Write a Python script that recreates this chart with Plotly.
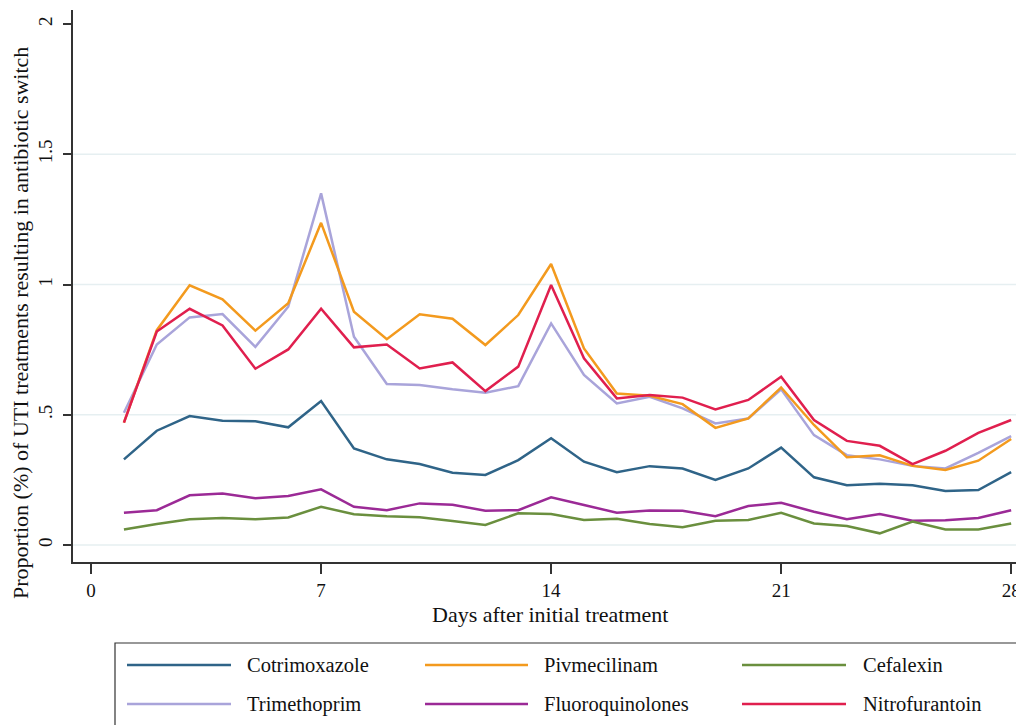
import plotly.graph_objects as go

days = list(range(1, 29))

cotrimoxazole = [0.329, 0.439, 0.495, 0.477, 0.475, 0.452, 0.553, 0.371, 0.329, 0.311,
                 0.278, 0.269, 0.326, 0.410, 0.320, 0.280, 0.303, 0.294, 0.250, 0.294,
                 0.374, 0.260, 0.230, 0.235, 0.230, 0.208, 0.211, 0.280]
pivmecilinam = [0.47, 0.825, 0.997, 0.943, 0.823, 0.928, 1.237, 0.896, 0.790, 0.886,
                0.869, 0.768, 0.883, 1.079, 0.755, 0.582, 0.573, 0.541, 0.450, 0.486,
                0.605, 0.461, 0.337, 0.345, 0.304, 0.288, 0.324, 0.407]
cefalexin = [0.060, 0.081, 0.099, 0.104, 0.099, 0.106, 0.147, 0.118, 0.111, 0.107,
             0.092, 0.077, 0.122, 0.119, 0.096, 0.101, 0.081, 0.068, 0.093, 0.096,
             0.124, 0.083, 0.073, 0.045, 0.090, 0.060, 0.060, 0.083]
trimethoprim = [0.508, 0.770, 0.874, 0.887, 0.761, 0.915, 1.350, 0.800, 0.618, 0.614,
                0.598, 0.585, 0.610, 0.851, 0.653, 0.544, 0.569, 0.525, 0.467, 0.486,
                0.598, 0.422, 0.345, 0.329, 0.304, 0.294, 0.354, 0.418]
fluoroquinolones = [0.124, 0.134, 0.191, 0.198, 0.180, 0.188, 0.214, 0.147, 0.134, 0.160,
                    0.155, 0.132, 0.134, 0.183, 0.154, 0.124, 0.133, 0.132, 0.111, 0.150,
                    0.162, 0.128, 0.099, 0.119, 0.093, 0.095, 0.104, 0.134]
nitrofurantoin = [0.470, 0.820, 0.907, 0.843, 0.677, 0.751, 0.907, 0.759, 0.770, 0.678,
                  0.701, 0.591, 0.685, 0.998, 0.717, 0.563, 0.576, 0.566, 0.521, 0.557,
                  0.646, 0.480, 0.400, 0.381, 0.311, 0.362, 0.431, 0.480]

x_ticks = [0, 7, 14, 21, 28]
y_ticks = [0, 0.5, 1, 1.5, 2]
y_tick_labels = ["0", ".5", "1", "1.5", "2"]
grid_levels = [0, 0.5, 1, 1.5]

series = [
    ("Cotrimoxazole", cotrimoxazole, "#2F6488"),
    ("Pivmecilinam", pivmecilinam, "#F39A1E"),
    ("Cefalexin", cefalexin, "#6A8F3E"),
    ("Trimethoprim", trimethoprim, "#A9A4DA"),
    ("Fluoroquinolones", fluoroquinolones, "#9B2A96"),
    ("Nitrofurantoin", nitrofurantoin, "#E01F4E"),
]
draw_order = ["Trimethoprim", "Pivmecilinam", "Nitrofurantoin", "Cotrimoxazole", "Fluoroquinolones", "Cefalexin"]

FONT = "Liberation Serif, Times New Roman, serif"
OFF = 8  # page body margin in the browser
W, H = 1024 - OFF, 725 - OFF
# plot area in screen pixels: x 73..1022, y 10..562
ML = 73 - OFF
MT = 10 - OFF
MR = W - (1022 - OFF)
MB = H - (562 - OFF)
PW, PH = W - ML - MR, H - MT - MB

fig = go.Figure()
lookup = {n: (v, c) for n, v, c in series}
for name in draw_order:
    vals, col = lookup[name]
    fig.add_trace(go.Scatter(x=days, y=vals, mode="lines", name=name,
                             line=dict(color=col, width=2.5), showlegend=False))

def px_to_paper(px, py):
    fx, fy = px - OFF, py - OFF
    return (fx - ML) / PW, (H - MB - fy) / PH

shapes = []
annotations = []
for g in grid_levels:
    shapes.append(dict(type="line", xref="paper", yref="y", x0=0, x1=1, y0=g, y1=g,
                       line=dict(color="#E6EFF1", width=1.5), layer="below"))
x0, y0 = px_to_paper(115, 643)
x1, y1 = px_to_paper(1018, 740)
shapes.append(dict(type="rect", xref="paper", yref="paper", x0=x0, y0=y1, x1=x1, y1=y0,
                   line=dict(color="#333333", width=1.2), fillcolor="rgba(0,0,0,0)"))
col_line = [(127, 231), (425, 528), (742, 846)]
col_text = [245, 542, 861]
row_y = [665, 704]
for i, (name, vals, col) in enumerate(series):
    r, c = divmod(i, 3)
    lx0, ly = px_to_paper(col_line[c][0], row_y[r])
    lx1, _ = px_to_paper(col_line[c][1], row_y[r])
    shapes.append(dict(type="line", xref="paper", yref="paper", x0=lx0, x1=lx1, y0=ly, y1=ly,
                       line=dict(color=col, width=2.5)))
    tx, ty = px_to_paper(col_text[c], row_y[r])
    annotations.append(dict(xref="paper", yref="paper", x=tx, y=ty, text=name, showarrow=False,
                            xanchor="left", yanchor="middle",
                            font=dict(family=FONT, size=20.5, color="#111111")))

ax, ay = px_to_paper(550, 614)
annotations.append(dict(xref="paper", yref="paper", x=ax, y=ay, text="Days after initial treatment",
                        showarrow=False, xanchor="center", yanchor="middle",
                        font=dict(family=FONT, size=22, color="#111111")))
bx, by = px_to_paper(20, 323)
annotations.append(dict(xref="paper", yref="paper", x=bx, y=by,
                        text="Proportion (%) of UTI treatments resulting in antibiotic switch",
                        textangle=-90, showarrow=False, xanchor="center", yanchor="middle",
                        font=dict(family=FONT, size=22, color="#111111")))

fig.update_layout(
    width=W, height=H,
    margin=dict(l=ML, r=MR, t=MT, b=MB, autoexpand=False),
    paper_bgcolor="white", plot_bgcolor="white",
    font=dict(family=FONT, size=19, color="#111111"),
    shapes=shapes, annotations=annotations,
    xaxis=dict(range=[-0.55, 28.33], tickvals=x_ticks, ticks="outside", ticklen=10,
               tickcolor="#333333", tickwidth=1.5, showline=True, linecolor="#333333",
               linewidth=1.5, showgrid=False, zeroline=False, automargin=False,
               tickfont=dict(family=FONT, size=19)),
    yaxis=dict(range=[-0.065, 2.054], tickvals=y_ticks, ticktext=y_tick_labels, tickangle=-90,
               ticks="outside", ticklen=8, tickcolor="#333333", tickwidth=1.5,
               showline=True, linecolor="#333333", linewidth=1.5,
               showgrid=False, zeroline=False, automargin=False, ticklabelstandoff=4,
               tickfont=dict(family=FONT, size=19)),
)

fig.write_html("out.html")
